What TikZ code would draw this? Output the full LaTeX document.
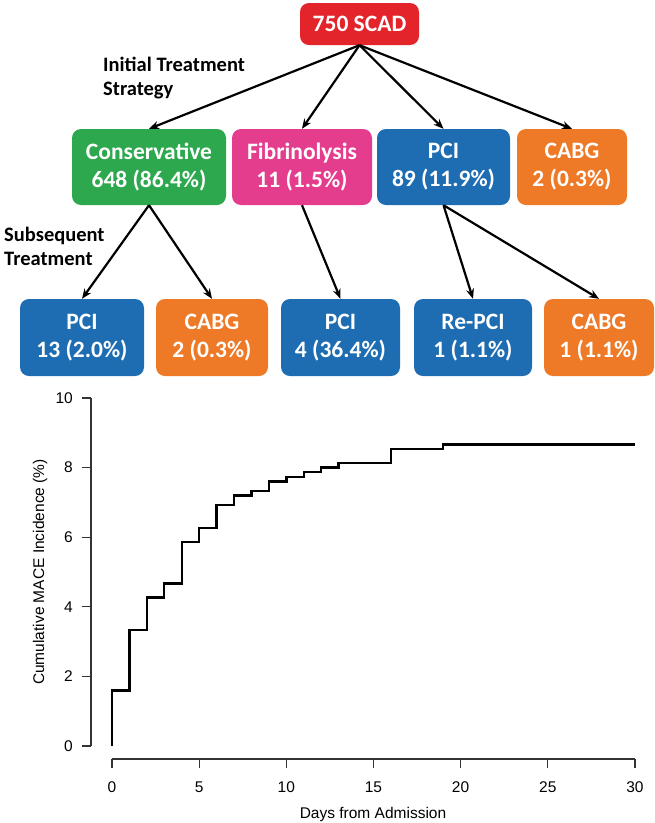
\documentclass[tikz,border=0pt]{standalone}
\usepackage{fontspec}
\setmainfont{Carlito}
\newfontfamily\plotfont{Liberation Sans}
\usepackage{xcolor}
\usetikzlibrary{arrows.meta}
\definecolor{Red}{HTML}{E3242B}
\definecolor{Green}{HTML}{2DA84F}
\definecolor{Pink}{HTML}{E43D8E}
\definecolor{Blue}{HTML}{1E6DB2}
\definecolor{Orange}{HTML}{EE7A27}
\definecolor{Axis}{HTML}{333333}

\begin{document}
\begin{tikzpicture}[x=1pt,y=-1pt,
    blk/.style={rounded corners=9pt,minimum height=76pt,inner sep=0pt,align=center,
      text=white,font=\fontsize{23.5}{28}\selectfont\bfseries},
    lbl/.style={anchor=north west,align=left,inner sep=0pt,
      font=\fontsize{20.5}{24}\selectfont\bfseries},
    arr/.style={-{Stealth[length=10pt,width=8pt]},line width=2.2pt},
    tk/.style={draw=Axis,line width=1.3pt},
    num/.style={font=\plotfont\fontsize{15.5}{18}\selectfont,inner sep=0pt}]
  \useasboundingbox (0,0) rectangle (655,823);
  % tree
  \node[blk,fill=Red,minimum width=119pt,minimum height=42pt] (scad) at (359.5,24) {750 SCAD};
  \node[blk,fill=Green,minimum width=154pt] (cons) at (149,167) {Conservative\\648 (86.4\%)};
  \node[blk,fill=Pink,minimum width=140pt] (fib) at (302,167) {Fibrinolysis\\11 (1.5\%)};
  \node[blk,fill=Blue,minimum width=133pt] (pci) at (443.5,167) {PCI\\89 (11.9\%)};
  \node[blk,fill=Orange,minimum width=110pt] (cabg) at (572,167) {CABG\\2 (0.3\%)};
  \node[blk,fill=Blue,minimum width=124pt,minimum height=77pt] (cpci) at (82,337.5) {PCI\\13 (2.0\%)};
  \node[blk,fill=Orange,minimum width=112pt,minimum height=77pt] (ccabg) at (212,337.5) {CABG\\2 (0.3\%)};
  \node[blk,fill=Blue,minimum width=119pt,minimum height=77pt] (fpci) at (340.5,337.5) {PCI\\4 (36.4\%)};
  \node[blk,fill=Blue,minimum width=118pt,minimum height=77pt] (repci) at (473,337.5) {Re-PCI\\1 (1.1\%)};
  \node[blk,fill=Orange,minimum width=110pt,minimum height=77pt] (pcabg) at (599,337.5) {CABG\\1 (1.1\%)};
  \node[lbl] (init) at (103,57) {Initial Treatment\\Strategy};
  \node[lbl] (subs) at (4,227) {Subsequent\\Treatment};
  \foreach \t in {cons,fib,pci,cabg}
    \draw[arr] (scad.south) -- (\t.north);
  \draw[arr] (cons.south) -- (cpci.north);
  \draw[arr] (cons.south) -- (ccabg.north);
  \draw[arr] (fib.south) -- (fpci.north);
  \draw[arr] (pci.south) -- (repci.north);
  \draw[arr] (pci.south) -- (pcabg.north);
  % axes
  \draw[tk] (91,398) -- (91,746);
  \foreach \v in {0,2,...,10}{
    \draw[tk] (91,{746-34.8*\v}) -- (82,{746-34.8*\v});
    \node[num,anchor=east] (yt\v) at (73,{746-34.8*\v}) {\v};
  }
  \draw[tk] (112,759) -- (635,759);
  \foreach \d in {0,5,...,30}{
    \draw[tk] ({112+17.43*\d},759) -- ({112+17.43*\d},768);
    \node[num] (xt\d) at ({112+17.43*\d},787) {\d};
  }
  \node[num,rotate=90] (ylab) at (40,572) {Cumulative MACE Incidence (\%)};
  \node[num] (xlab) at (373,814) {Days from Admission};
  % cumulative incidence
  \begin{scope}[shift={(112,746)},x=17.43pt,y=34.8pt]
    \draw[line width=2.4pt] plot[const plot] coordinates {(0,0) (0,1.6) (1,3.333) (2,4.267)
      (3,4.667) (4,5.867) (5,6.267) (6,6.933) (7,7.2) (8,7.333) (9,7.6) (10,7.733)
      (11,7.867) (12,8.0) (13,8.133) (16,8.533) (19,8.667) (30,8.667)};
  \end{scope}
\end{tikzpicture}
\end{document}
